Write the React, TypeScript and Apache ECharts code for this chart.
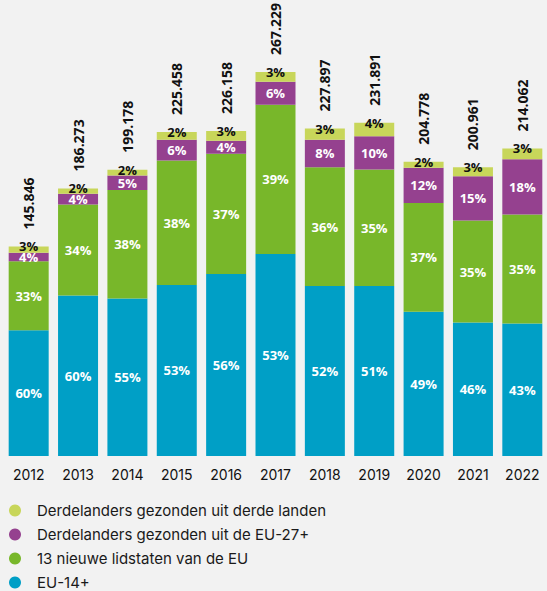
import React, { useEffect, useRef } from "react";
import * as echarts from "echarts";

const years = ["2012", "2013", "2014", "2015", "2016", "2017", "2018", "2019", "2020", "2021", "2022"];
const totals = [145846, 186273, 199178, 225458, 226158, 267229, 227897, 231891, 204778, 200961, 214062];

// absolute segment values (estimated)
const eu14 = [87508, 111764, 109547, 119058, 126649, 140629, 118297, 118264, 100341, 92861, 92262];
const newMembers = [48129, 63333, 75688, 86600, 83678, 103800, 82700, 81162, 75768, 71000, 75800];
const thirdFromEU = [5834, 7451, 9959, 14400, 9046, 16000, 19150, 23189, 24573, 30800, 38500];
const thirdFromThird = [4375, 3725, 3984, 5400, 6785, 6800, 7750, 9276, 4096, 6300, 7500];

// percentage labels as shown
const pctEu14 = [60, 60, 55, 53, 56, 53, 52, 51, 49, 46, 43];
const pctNew = [33, 34, 38, 38, 37, 39, 36, 35, 37, 35, 35];
const pctThirdEU = [4, 4, 5, 6, 4, 6, 8, 10, 12, 15, 18];
const pctThirdThird = [3, 2, 2, 2, 3, 3, 3, 4, 2, 3, 3];

const seriesNames = [
  "Derdelanders gezonden uit derde landen",
  "Derdelanders gezonden uit de EU-27+",
  "13 nieuwe lidstaten van de EU",
  "EU-14+",
];

const COLORS = {
  lime: "#c8d65a",
  purple: "#95418f",
  green: "#78b72a",
  blue: "#009fc6",
};

const fmtTotal = (v: number) => v.toLocaleString("de-DE");

export default function App() {
  const ref = useRef<HTMLDivElement>(null);
  useEffect(() => {
    if (!ref.current) return;
    const chart = echarts.init(ref.current, undefined, { renderer: "svg" });
    const pctFont = {
      fontFamily: "Open Sans",
      fontWeight: 700 as const,
      fontSize: 13,
    };
    const mkLabel = (arr: number[], color: string) => ({
      show: true,
      position: "inside" as const,
      color,
      ...pctFont,
      formatter: (p: any) => `${arr[p.dataIndex]}%`,
    });
    chart.setOption({
      animation: false,
      backgroundColor: "#f2f2f2",
      grid: { left: 4, width: 549, top: 25, bottom: 135 },
      legend: {
        orient: "vertical",
        left: 9,
        top: 503,
        padding: 0,
        icon: "circle",
        itemWidth: 12,
        itemHeight: 12,
        itemGap: 9,
        selectedMode: false,
        data: seriesNames,
        textStyle: {
          fontFamily: "Inter",
          fontSize: 15,
          color: "#1a1a1a",
          padding: [0, 0, 0, 11],
        },
      },
      xAxis: {
        type: "category",
        data: years,
        axisLine: { show: false },
        axisTick: { show: false },
        axisLabel: {
          fontFamily: "Inter",
          fontSize: 14,
          color: "#111",
          margin: 11,
        },
      },
      yAxis: {
        type: "value",
        min: 0,
        max: 300000,
        show: false,
        splitLine: { show: false },
      },
      series: [
        {
          name: seriesNames[3],
          type: "bar",
          stack: "a",
          barWidth: 40,
          data: eu14,
          itemStyle: { color: COLORS.blue },
          label: mkLabel(pctEu14, "#fff"),
        },
        {
          name: seriesNames[2],
          type: "bar",
          stack: "a",
          barWidth: 40,
          data: newMembers,
          itemStyle: { color: COLORS.green },
          label: mkLabel(pctNew, "#fff"),
        },
        {
          name: seriesNames[1],
          type: "bar",
          stack: "a",
          barWidth: 40,
          data: thirdFromEU,
          itemStyle: { color: COLORS.purple },
          label: mkLabel(pctThirdEU, "#fff"),
        },
        {
          name: seriesNames[0],
          type: "bar",
          stack: "a",
          barWidth: 40,
          data: thirdFromThird,
          itemStyle: { color: COLORS.lime },
          label: {
            show: true,
            position: ["50%", 0],
            align: "center",
            verticalAlign: "middle",
            offset: [0, 0],
            color: "#111",
            ...pctFont,
            formatter: (p: any) => `${pctThirdThird[p.dataIndex]}%`,
          },
        },
        {
          name: "totaal",
          type: "bar",
          barWidth: 40,
          barGap: "-100%",
          data: totals,
          z: 1,
          silent: true,
          itemStyle: { color: "rgba(0,0,0,0)" },
          label: {
            show: true,
            position: "top",
            distance: 17,
            rotate: 90,
            align: "left",
            verticalAlign: "middle",
            color: "#111",
            fontFamily: "Open Sans",
            fontWeight: 700,
            fontSize: 14,
            formatter: (p: any) => fmtTotal(totals[p.dataIndex]),
          },
        },
      ],
    });
    return () => chart.dispose();
  }, []);
  return (
    <div
      ref={ref}
      style={{ position: "fixed", left: 0, top: 0, width: 547, height: 591, background: "#f2f2f2" }}
    />
  );
}
